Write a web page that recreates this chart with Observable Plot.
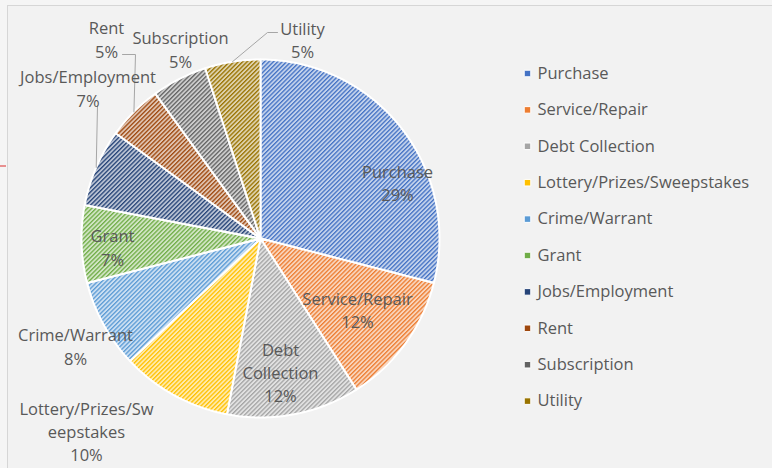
<!DOCTYPE html>
<html><head><meta charset="utf-8">
<script src="https://cdn.jsdelivr.net/npm/d3@7"></script>
<script src="https://cdn.jsdelivr.net/npm/@observablehq/plot@0.6"></script>
<style>
html,body{margin:0;padding:0;background:#f5f5f5;}
#wrap{position:relative;width:772px;height:468px;overflow:hidden;}
#frame{position:absolute;left:7px;top:5px;width:800px;height:500px;background:#f2f2f2;border-left:1.5px solid #d6d6d6;border-top:1.5px solid #d6d6d6;}
#tick{position:absolute;left:0;top:165px;width:6px;height:1.5px;background:#e89090;}
#chart{position:absolute;left:0;top:0;}
</style></head><body>
<div id="wrap"><div id="frame"></div><div id="tick"></div><div id="chart"></div></div>
<script>
// ---- data ----
const categories = ["Purchase","Service/Repair","Debt Collection","Lottery/Prizes/Sweepstakes","Crime/Warrant","Grant","Jobs/Employment","Rent","Subscription","Utility"];
const shares = [29,12,12,10,8,7,7,5,5,5];
const labelNames = ["Purchase","Service/Repair","Debt\nCollection","Lottery/Prizes/Sw\neepstakes","Crime/Warrant","Grant","Jobs/Employment","Rent","Subscription","Utility"];
const colors = ["#4472C4","#ED7D31","#A5A5A5","#FFC000","#5B9BD5","#70AD47","#264478","#9E480E","#636363","#997300"];

// ---- layout ----
const W = 772, H = 468, cx = 260, cy = 238, R = 179;
const X = px => (px - cx) / R, Y = py => (cy - py) / R;
const labelPos = [[397,181.5],[357,308.5],[280,371],[86,430],[75,345],[112,246],[87.5,87],[106,38],[180,48],[302,38.5]];
const leaders = {6: [[97,105],[97,105]], 7: [[122,54],[135,54]], 9: [[277,32],[267,32]]};
const legendX = 527, legendText = 537, legendY0 = 73, legendStep = 36.4;

const arcs = d3.pie().sort(null).value(d => d)(shares);
const sliceRows = [];
arcs.forEach((a, i) => {
  sliceRows.push({i, x: 0, y: 0});
  const n = Math.max(8, Math.ceil((a.endAngle - a.startAngle) * 60));
  for (let k = 0; k <= n; k++) {
    const t = a.startAngle + (a.endAngle - a.startAngle) * k / n;
    sliceRows.push({i, x: Math.sin(t), y: Math.cos(t)});
  }
});
const labels = categories.map((c, i) => ({i, text: `${labelNames[i]}\n${shares[i]}%`, x: X(labelPos[i][0]), y: Y(labelPos[i][1])}));
const leaderRows = [];
for (const [k, pts] of Object.entries(leaders)) {
  const a = arcs[k], m = (a.startAngle + a.endAngle) / 2;
  pts.forEach(p => leaderRows.push({k, x: X(p[0]), y: Y(p[1])}));
  leaderRows.push({k, x: Math.sin(m), y: Math.cos(m)});
}
const legendRows = categories.map((c, i) => ({c, i, x: X(legendX), tx: X(legendText), y: Y(legendY0 + i * legendStep)}));

const font = "'Open Sans', sans-serif";
const plot = Plot.plot({
  width: W, height: H, margin: 0,
  style: {background: "transparent", overflow: "visible"},
  x: {domain: [X(0), X(W)], range: [0, W], axis: null},
  y: {domain: [Y(H), Y(0)], range: [H, 0], axis: null},
  color: {type: "identity"},
  marks: [
    Plot.line(sliceRows, {x: "x", y: "y", z: "i", fill: d => `url(#hatch${d.i})`, stroke: "white", strokeWidth: 2, strokeLinejoin: "round", curve: "linear-closed"}),
    Plot.line(leaderRows, {x: "x", y: "y", z: "k", stroke: "#a6a6a6", strokeWidth: 1}),
    Plot.text(labels, {x: "x", y: "y", text: "text", fill: "#595959", fontSize: 16.5, fontFamily: font, lineHeight: 1.42, textAnchor: "middle", lineAnchor: "middle"}),
    Plot.dot(legendRows, {x: "x", y: "y", symbol: "square", r: 3.7, fill: d => colors[d.i], stroke: "white", strokeWidth: 1}),
    Plot.text(legendRows, {x: "tx", y: "y", text: "c", fill: "#595959", fontSize: 16.5, fontFamily: font, textAnchor: "start"})
  ]
});

// hatch patterns
const defs = d3.select(plot).insert("defs", ":first-child");
colors.forEach((c, i) => {
  const light = d3.interpolateRgb(c, "#ffffff")(0.68);
  const p = defs.append("pattern").attr("id", `hatch${i}`).attr("patternUnits", "userSpaceOnUse")
    .attr("width", 3.1).attr("height", 3.1).attr("patternTransform", "rotate(45)");
  p.append("rect").attr("width", 3.1).attr("height", 3.1).attr("fill", light);
  p.append("rect").attr("width", 1.3).attr("height", 3.1).attr("fill", c);
});
document.getElementById("chart").append(plot);
</script>
</body></html>
